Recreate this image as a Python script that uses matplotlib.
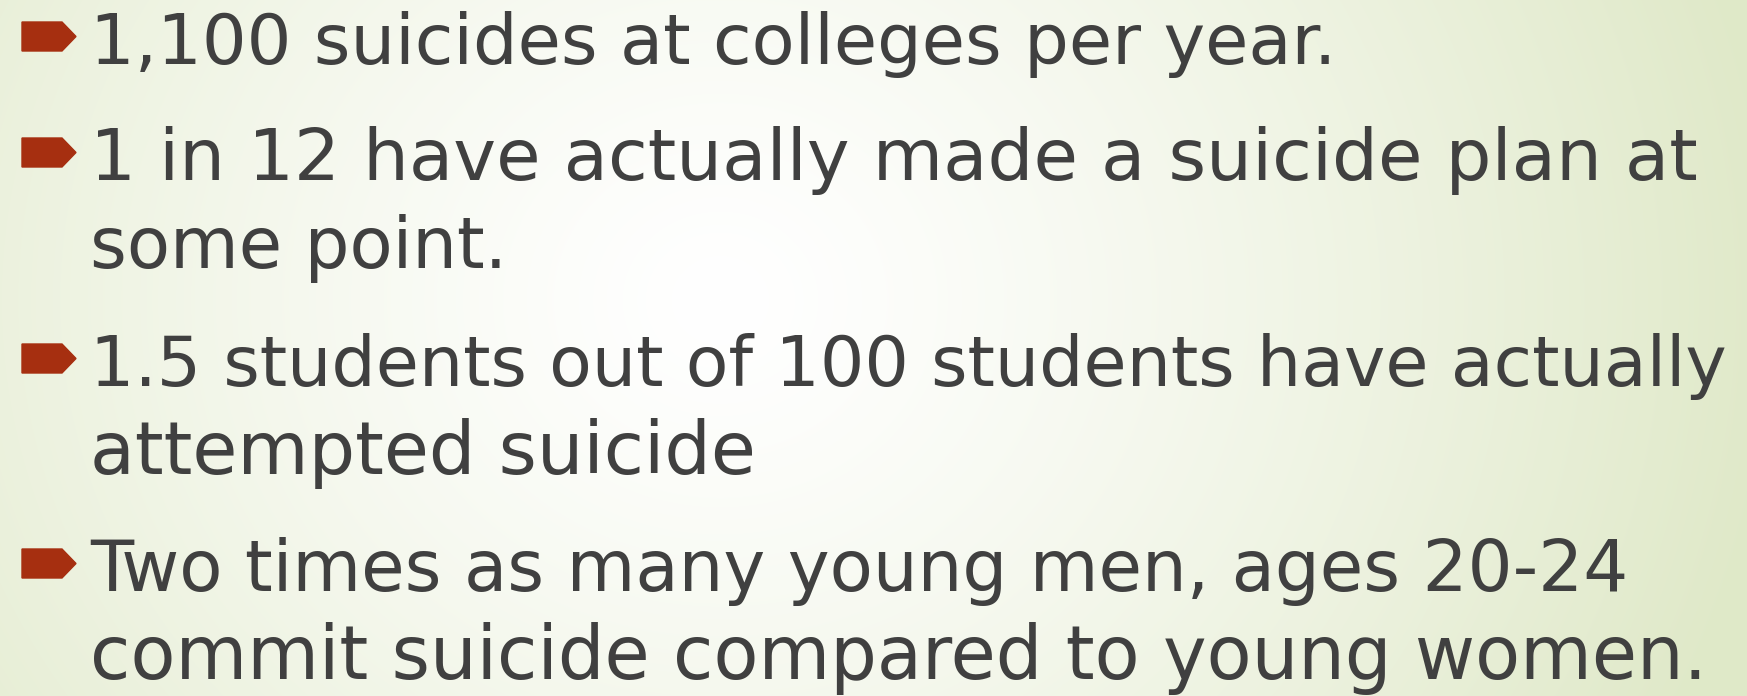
import numpy as np
import matplotlib
matplotlib.use("Agg")
import matplotlib.pyplot as plt
from matplotlib.patches import Polygon

# slide content
bullet_lines = [
    ["1,100 suicides at colleges per year."],
    ["1 in 12 have actually made a suicide plan at", "some point."],
    ["1.5 students out of 100 students have actually", "attempted suicide"],
    ["Two times as many young men, ages 20-24", "commit suicide compared to young women."],
]
first_baselines = [64, 180, 386, 591]
# right edge of each line in the original slide (px)
line_right = [[1335], [1696, 507], [1725, 755], [1629, 1705]]

W, H = 1747, 696
text_color = "#404040"
bullet_color = "#A62F10"
font = "DejaVu Sans"
x0 = 90

fig = plt.figure(figsize=(W / 100, H / 100), dpi=100)
ax = fig.add_axes([0, 0, 1, 1])
ax.set_xlim(0, W)
ax.set_ylim(H, 0)
ax.axis("off")

# radial background: white centre fading to pale green
yy, xx = np.mgrid[0:H, 0:W]
d = np.hypot(xx - 720, (yy - 300) * 1.1) / 1050
t = np.clip(d, 0, 1) ** 1.3
white = np.array([1.0, 1.0, 1.0])
green = np.array([0.878, 0.914, 0.788])
bg = white[None, None, :] * (1 - t[..., None]) + green[None, None, :] * t[..., None]
ax.imshow(bg, extent=(0, W, H, 0), aspect="auto", zorder=0)

renderer = fig.canvas.get_renderer()


def fit_size(line, right):
    probe = ax.text(x0, 100, line, fontsize=40, family=font)
    w = probe.get_window_extent(renderer).width
    probe.remove()
    return 40 * (right - x0) / w


line_gap = 88
for lines, rights, base in zip(bullet_lines, line_right, first_baselines):
    top, bot = base - 42, base - 13
    mid = (top + bot) / 2
    ax.add_patch(Polygon([(22, top), (62, top), (76, mid), (62, bot), (22, bot)],
                         closed=True, color=bullet_color, zorder=2))
    for i, (line, right) in enumerate(zip(lines, rights)):
        fs = fit_size(line, right)
        ax.text(x0, base + i * line_gap, line, fontsize=fs, family=font,
                color=text_color, va="baseline", ha="left", zorder=3)

fig.savefig("out.png", dpi=100)
